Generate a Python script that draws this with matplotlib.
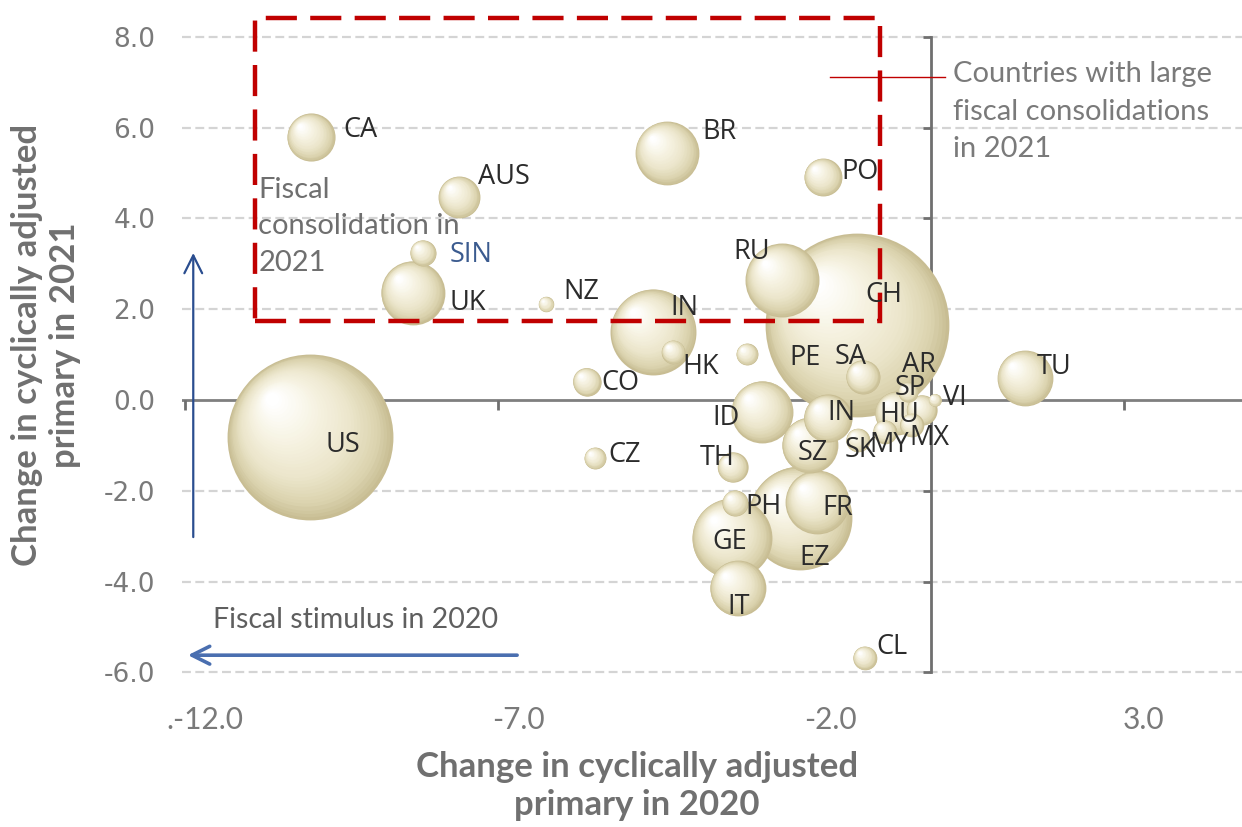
#!/usr/bin/env python3
"""
Fiscal stance bubble chart: change in cyclically adjusted primary balance
in 2020 (x) vs 2021 (y), bubble size ~ economy weight.
"""

import numpy as np
import matplotlib
matplotlib.use('Agg')
import matplotlib.pyplot as plt
import matplotlib.transforms as mtransforms
from matplotlib.colors import LinearSegmentedColormap
from matplotlib.patches import Rectangle

# Data
countries = ['US', 'CH', 'EZ', 'IN', 'GE', 'RU', 'UK', 'BR', 'FR', 'ID',
             'SZ', 'TU', 'IT', 'IN', 'CA', 'HU', 'AUS', 'PO', 'SA', 'SP',
             'TH', 'CO', 'PH', 'SIN', 'MX', 'MY', 'SK', 'CL', 'HK', 'CZ',
             'PE', 'AR', 'NZ', 'VI']
chg_2020 = [-10.32, -1.58, -2.50, -4.84, -3.58, -2.78, -8.68, -4.62, -2.22, -3.10,
            -2.34, 1.10, -3.49, -2.05, -10.31, -0.95, -7.94, -2.13, -1.49, -0.55,
            -3.57, -5.90, -3.53, -8.52, -0.71, -1.14, -1.57, -1.46, -4.52, -5.77,
            -3.34, -0.77, -6.55, -0.34]
chg_2021 = [-0.81, 1.65, -2.60, 1.50, -3.04, 2.64, 2.36, 5.44, -2.25, -0.26,
            -0.99, 0.48, -4.14, -0.40, 5.79, -0.29, 4.47, 4.91, 0.51, -0.22,
            -1.48, 0.40, -2.27, 3.24, -0.55, -0.70, -0.88, -5.68, 1.06, -1.28,
            1.01, 0.18, 2.11, 0.00]
bubble_size = [68.9, 84.6, 27.0, 18.5, 16.0, 13.7, 10.2, 10.2, 10.2, 9.6,
               7.8, 7.8, 7.8, 5.8, 5.8, 4.8, 4.4, 3.6, 2.9, 2.3,
               2.3, 2.0, 1.7, 1.7, 1.4, 1.4, 1.4, 1.4, 1.4, 1.2,
               1.2, 1.0, 0.6, 0.4]

xticks = [-12.0, -7.0, -2.0, 3.0]
xtick_labels = ['.-12.0', '-7.0', '-2.0', '3.0']
yticks = [-6.0, -4.0, -2.0, 0.0, 2.0, 4.0, 6.0, 8.0]

# label offsets from bubble centre (pixels, left edge of text / vertical centre)
label_offset_px = [(15, -8), (8, 30), (0, -40), (17, 24), (-20, -4), (-49, 28),
                   (37, -10), (35, 21), (5, -6), (-50, -6), (-12, -8), (12, 11),
                   (-10, -19), (0, 5), (32, 7), (-17, -2), (19, 20), (19, 5),
                   (-28, 20), (-27, 22), (-33, 9), (15, -1), (10, -4), (27, -2),
                   (-2, -13), (-15, -13), (-13, -10), (12, 11), (9, -15), (13, 3),
                   (42, -4), (-6, 27), (17, 12), (8, 2)]

PX = 0.72  # points per pixel at dpi=100
GRAY_TXT = '#7a7a7a'

sphere_cmap = LinearSegmentedColormap.from_list(
    'sphere', [(0.0, '#c8bd93'), (0.12, '#dad2ad'), (0.35, '#ebe5ca'),
               (0.7, '#f7f4e5'), (1.0, '#ffffff')])


def draw_bubble(ax, x, y, s, n=36):
    d = np.sqrt(s)
    for i in range(n):
        t = i / (n - 1)
        frac = 1 - 0.92 * t
        off = (1 - frac) * d / 2 * 0.5
        tr = mtransforms.offset_copy(ax.transData, fig=ax.figure, x=-off, y=off, units='points')
        ax.scatter([x], [y], s=(d * frac) ** 2, color=sphere_cmap(t), lw=0,
                   transform=tr, zorder=3)


def main():
    fig = plt.figure(figsize=(12.42, 8.27), dpi=100)
    ax = fig.add_axes([182 / 1242, 0.1814, 1060 / 1242, 0.7796])
    ax.set_xlim(-12.37, 4.57)
    ax.set_ylim(-6.1, 8.1)
    for sp in ax.spines.values():
        sp.set_visible(False)

    # gridlines
    for yv in yticks:
        if yv != 0:
            ax.axhline(yv, color='#d4d4d4', lw=1.6, ls=(0, (4, 2)), zorder=1)
    # axes lines
    ax.axhline(0, color='#7f7f7f', lw=2.0, zorder=2)
    vx = -0.4
    ax.plot([vx, vx], [-6, 8], color='#6f6f6f', lw=2.0, zorder=2)
    ax.plot([vx] * len(yticks), yticks, ls='none', marker=0, ms=6, mew=2,
            color='#6f6f6f', zorder=2)
    ax.plot(np.array(xticks) - 0.32, [0] * len(xticks), ls='none', marker=3, ms=7, mew=2,
            color='#6f6f6f', zorder=2)

    ax.set_xticks(xticks)
    ax.set_xticklabels(xtick_labels, fontfamily='Lato', fontsize=21.5, color=GRAY_TXT)
    ax.set_yticks(yticks)
    ax.set_yticklabels([f'{v:.1f}' for v in yticks], fontfamily='DejaVu Sans',
                       fontsize=19, color=GRAY_TXT)
    ax.tick_params(axis='x', length=0, pad=21)
    ax.tick_params(axis='y', length=0, pad=19)

    # bubbles, largest drawn first
    order = np.argsort(bubble_size)[::-1]
    for i in order:
        draw_bubble(ax, chg_2020[i], chg_2021[i], bubble_size[i] * 207)

    for i, name in enumerate(countries):
        dx, dy = label_offset_px[i]
        ax.annotate(name, (chg_2020[i], chg_2021[i]), xytext=(dx * PX, dy * PX),
                    textcoords='offset points', ha='left', va='center',
                    fontfamily='Open Sans', fontsize=19.5,
                    color='#3b5b8f' if name == 'SIN' else '#2b2b2b', zorder=10)

    # red dashed box: countries with large consolidations
    box = Rectangle((-11.20, 1.74), 9.98, 6.67, fill=False, ec='#c00000', lw=3.2,
                    ls=(0, (7, 3)), zorder=8, clip_on=False)
    ax.add_patch(box)
    ax.plot([-2.02, -0.18], [7.11, 7.11], color='#c00000', lw=1.0, zorder=8)
    ax.text(-0.05, 7.46, 'Countries with large\nfiscal consolidations\nin 2021',
            ha='left', va='top', fontfamily='Lato', fontsize=21, color=GRAY_TXT,
            linespacing=1.55, zorder=10)
    ax.text(-11.15, 4.92, 'Fiscal\nconsolidation in\n2021', ha='left', va='top',
            fontfamily='Lato', fontsize=21, color='#6f6f6f', linespacing=1.5, zorder=10)

    # blue arrows
    ax.annotate('', xy=(-12.19, 3.30), xytext=(-12.19, -3.08),
                arrowprops=dict(arrowstyle='->', color='#2a4d8f', lw=1.6,
                                mutation_scale=32), zorder=6, annotation_clip=False)
    ax.annotate('', xy=(-12.32, -5.62), xytext=(-6.97, -5.62),
                arrowprops=dict(arrowstyle='->', color='#4a6fb0', lw=2.6,
                                mutation_scale=32), zorder=6, annotation_clip=False)
    ax.text(-11.87, -4.85, 'Fiscal stimulus in 2020', ha='left', va='center',
            fontfamily='Lato', fontsize=20.5, color='#5f5f5f', zorder=10)

    # axis titles
    fig.text(637 / 1242, 0.0496, 'Change in cyclically adjusted\nprimary in 2020',
             ha='center', va='center', fontfamily='Lato', fontweight='bold',
             fontsize=25, color='#707070', linespacing=1.25)
    fig.text(0.037, 0.583, 'Change in cyclically adjusted\nprimary in 2021',
             ha='center', va='center', rotation=90, fontfamily='Lato',
             fontweight='bold', fontsize=25, color='#707070', linespacing=1.25)

    fig.savefig('out.png', dpi=100)


if __name__ == '__main__':
    main()
